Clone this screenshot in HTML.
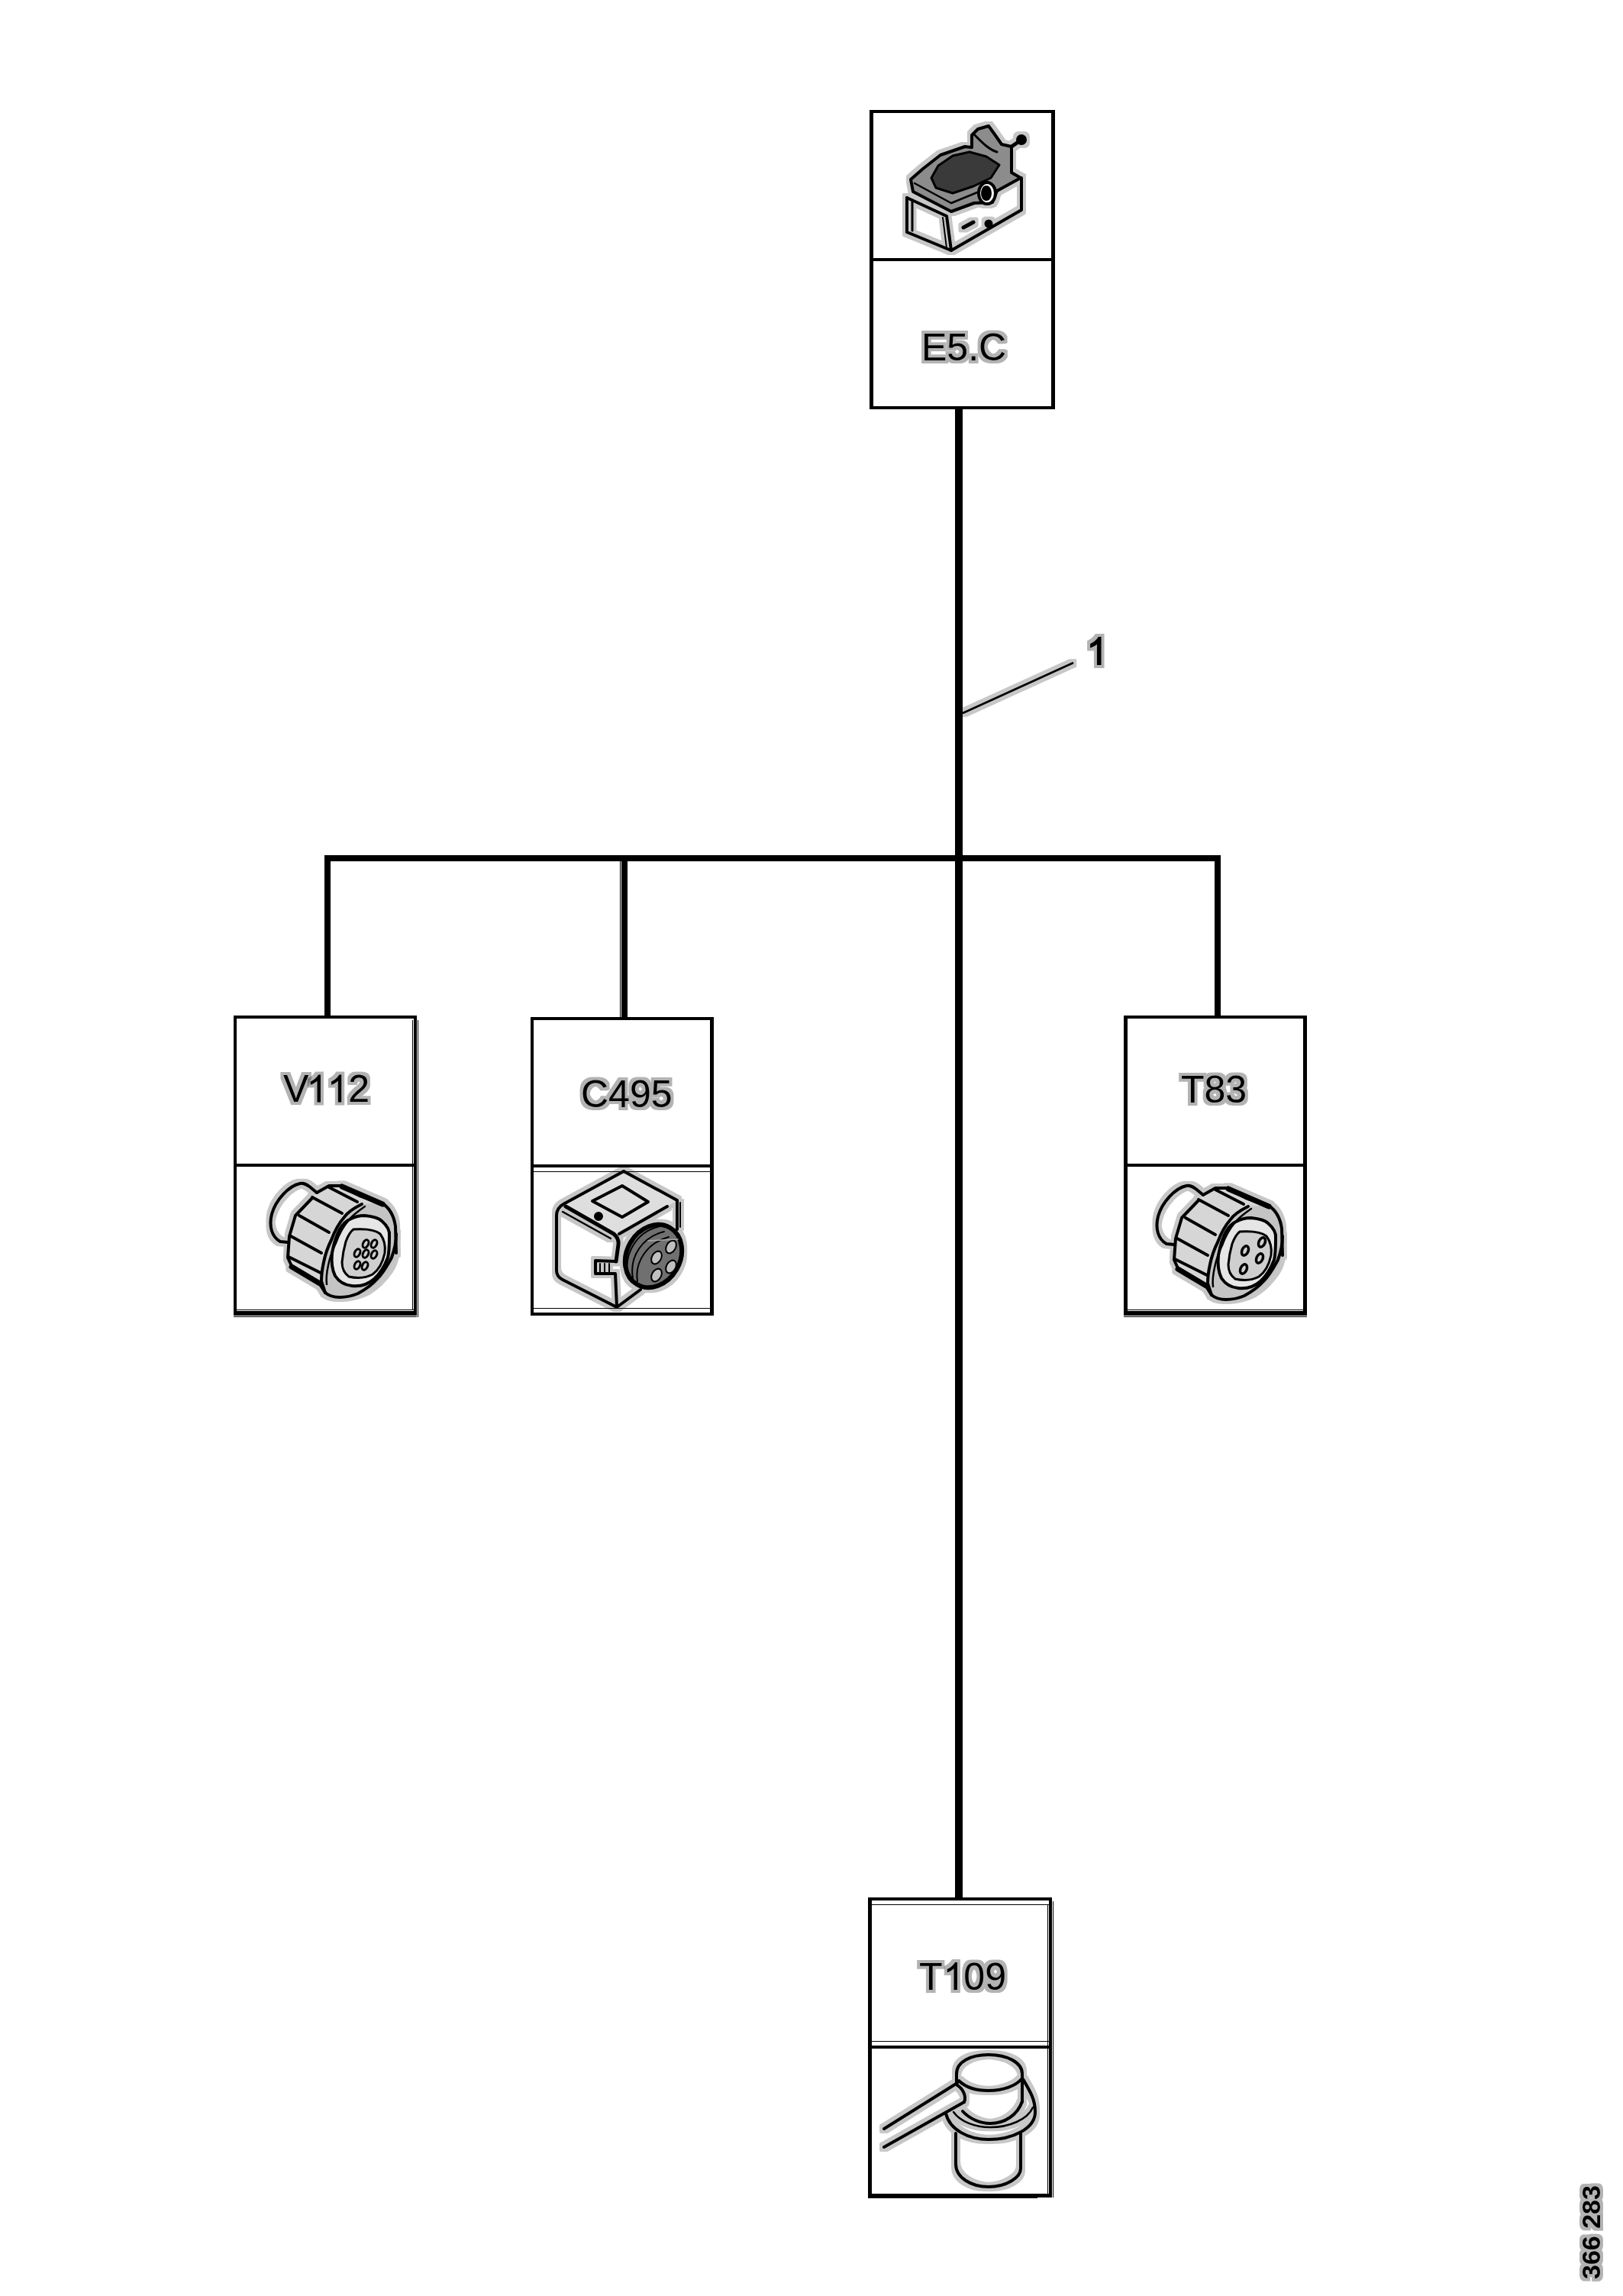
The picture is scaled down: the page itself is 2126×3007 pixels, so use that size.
<!DOCTYPE html>
<html>
<head>
<meta charset="utf-8">
<style>
html,body{margin:0;padding:0;background:#fff;}
body{width:2126px;height:3007px;position:relative;overflow:hidden;font-family:"Liberation Sans",sans-serif;}
.r{position:absolute;background:#000;}
.t{filter:url(#haloT);position:absolute;font-family:"Liberation Sans",sans-serif;font-size:50px;line-height:1;color:#000;white-space:nowrap;}
svg{position:absolute;left:0;top:0;}
.h{color:transparent;}
</style>
</head>
<body>
<!-- wires -->
<div class="r" style="left:1251px;top:536px;width:10px;height:1949px;"></div>
<div class="r" style="left:425px;top:1120px;width:1174px;height:8px;"></div>
<div class="r" style="left:425px;top:1120px;width:8px;height:210px;"></div>
<div class="r" style="left:814px;top:1120px;width:8px;height:212px;"></div>
<div class="r" style="left:812px;top:1128px;width:1px;height:204px;"></div>
<div class="r" style="left:1591px;top:1120px;width:8px;height:210px;"></div>
<!-- E5.C box -->
<div class="r" style="left:1139px;top:144px;width:243px;height:4px;"></div>
<div class="r" style="left:1139px;top:144px;width:5px;height:392px;"></div>
<div class="r" style="left:1377px;top:144px;width:5px;height:392px;"></div>
<div class="r" style="left:1139px;top:532px;width:243px;height:4px;"></div>
<div class="r" style="left:1139px;top:338px;width:243px;height:4px;"></div>
<!-- V112 box -->
<div class="r" style="left:306px;top:1330px;width:240px;height:4px;"></div>
<div class="r" style="left:306px;top:1330px;width:4px;height:393px;"></div>
<div class="r" style="left:542px;top:1330px;width:4px;height:393px;"></div>
<div class="r" style="left:306px;top:1717px;width:240px;height:6px;"></div>
<div class="r" style="left:306px;top:1524px;width:240px;height:4px;"></div>
<div class="r" style="left:310px;top:1715px;width:232px;height:1px;"></div>
<div class="r" style="left:306px;top:1724px;width:240px;height:1px;"></div>
<div class="r" style="left:540px;top:1336px;width:1px;height:379px;"></div>
<div class="r" style="left:547px;top:1336px;width:1px;height:389px;"></div>
<!-- C495 box -->
<div class="r" style="left:695px;top:1332px;width:240px;height:4px;"></div>
<div class="r" style="left:695px;top:1332px;width:4px;height:391px;"></div>
<div class="r" style="left:930px;top:1332px;width:5px;height:391px;"></div>
<div class="r" style="left:695px;top:1719px;width:240px;height:4px;"></div>
<div class="r" style="left:695px;top:1525px;width:240px;height:4px;"></div>
<div class="r" style="left:699px;top:1713px;width:231px;height:1px;"></div>
<div class="r" style="left:699px;top:1534px;width:231px;height:1px;"></div>
<!-- T83 box -->
<div class="r" style="left:1472px;top:1330px;width:240px;height:4px;"></div>
<div class="r" style="left:1472px;top:1330px;width:5px;height:393px;"></div>
<div class="r" style="left:1707px;top:1330px;width:5px;height:393px;"></div>
<div class="r" style="left:1472px;top:1717px;width:240px;height:6px;"></div>
<div class="r" style="left:1472px;top:1524px;width:240px;height:4px;"></div>
<div class="r" style="left:1477px;top:1715px;width:230px;height:1px;"></div>
<div class="r" style="left:1472px;top:1724px;width:240px;height:1px;"></div>
<!-- T109 box -->
<div class="r" style="left:1137px;top:2485px;width:241px;height:4px;"></div>
<div class="r" style="left:1137px;top:2485px;width:5px;height:393px;"></div>
<div class="r" style="left:1374px;top:2485px;width:4px;height:393px;"></div>
<div class="r" style="left:1137px;top:2873px;width:241px;height:5px;"></div>
<div class="r" style="left:1137px;top:2679px;width:241px;height:4px;"></div>
<div class="r" style="left:1142px;top:2494px;width:232px;height:1px;"></div>
<div class="r" style="left:1142px;top:2673px;width:232px;height:1px;"></div>
<div class="r" style="left:1372px;top:2494px;width:1px;height:379px;"></div>
<div class="r" style="left:1379px;top:2490px;width:1px;height:388px;"></div>
<div class="r" style="left:1137px;top:2878px;width:222px;height:1px;"></div>

<!-- labels -->
<div class="t" style="left:1207px;top:430px;">E5.C</div>
<div class="t" style="left:371px;top:1401px;">V<span class="h">1</span><span class="h">1</span>2</div>
<div class="t" style="left:761px;top:1408px;">C495</div>
<div class="t" style="left:1547px;top:1402px;">T83</div>
<div class="t" style="left:1204px;top:2564px;">T<span class="h">1</span>09</div>

<!-- leader line -->
<svg width="2126" height="3007" viewBox="0 0 2126 3007">
<defs>
<filter id="halo" x="-20%" y="-20%" width="140%" height="140%" color-interpolation-filters="sRGB">
<feMorphology in="SourceAlpha" operator="dilate" radius="3.5" result="d"/>
<feComponentTransfer in="d" result="g"><feFuncA type="linear" slope="0.22"/></feComponentTransfer>
<feMerge><feMergeNode in="g"/><feMergeNode in="SourceGraphic"/></feMerge>
</filter>
<filter id="haloT" x="-20%" y="-20%" width="140%" height="140%" color-interpolation-filters="sRGB">
<feMorphology in="SourceAlpha" operator="dilate" radius="4" result="d"/>
<feComponentTransfer in="d" result="g"><feFuncA type="linear" slope="0.3"/></feComponentTransfer>
<feMerge><feMergeNode in="g"/><feMergeNode in="SourceGraphic"/></feMerge>
</filter>
</defs>
<g fill="#000" filter="url(#haloT)">
<path transform="translate(1423.3,870.5)" stroke="#000" stroke-width="1.2" d="M18.63,0 L14.23,0 L14.23,-28.0 C12.6,-26.5 10.2,-24.4 5.44,-22.7 L5.44,-26.95 C9.5,-28.8 13.2,-31.6 15.85,-35.94 L18.63,-35.94 Z"/>
<path transform="translate(401.3,1443.5)" d="M18.63,0 L14.23,0 L14.23,-28.0 C12.6,-26.5 10.2,-24.4 5.44,-22.7 L5.44,-26.95 C9.5,-28.8 13.2,-31.6 15.85,-35.94 L18.63,-35.94 Z"/>
<path transform="translate(428.6,1443.5)" d="M18.63,0 L14.23,0 L14.23,-28.0 C12.6,-26.5 10.2,-24.4 5.44,-22.7 L5.44,-26.95 C9.5,-28.8 13.2,-31.6 15.85,-35.94 L18.63,-35.94 Z"/>
<path transform="translate(1235.3,2606)" d="M18.63,0 L14.23,0 L14.23,-28.0 C12.6,-26.5 10.2,-24.4 5.44,-22.7 L5.44,-26.95 C9.5,-28.8 13.2,-31.6 15.85,-35.94 L18.63,-35.94 Z"/>
</g>
<line x1="1261" y1="934" x2="1406" y2="868" stroke="#000" stroke-width="2.8" filter="url(#halo)"/>
</svg>


<!-- icons -->
<svg width="2126" height="3007" viewBox="0 0 2126 3007" fill="none" stroke="#000" stroke-width="4" stroke-linecap="round" stroke-linejoin="round"><g filter="url(#halo)">
<!-- T109 -->
<g id="t109">
<path d="M1253,2728 L1253,2716 C1253,2700 1272,2691 1295,2691 C1319,2691 1339,2701 1339,2716 L1339,2753"/>
<path d="M1256,2725 C1265,2734 1280,2738 1295,2738 C1314,2738 1330,2732 1338,2723"/>
<path d="M1261,2765 C1270,2775 1284,2781 1297,2781 C1316,2781 1333,2770 1339,2752"/>
<path d="M1249,2766 C1258,2779 1278,2786 1297,2786 C1322,2786 1346,2776 1353,2760" stroke-width="2.5"/>
<path d="M1239,2768 C1244,2789 1268,2802 1295,2802 C1326,2802 1356,2788 1356,2766 C1356,2750 1350,2740 1340,2723"/>
<path d="M1252,2794 L1252,2834 C1252,2852 1272,2864 1295,2864 C1318,2864 1337,2852 1337,2840 L1337,2794"/>
<path d="M1158,2788 L1254,2728"/>
<path d="M1158,2812 L1263,2753"/>
<path d="M1254,2731 C1262,2736 1266,2746 1263,2753"/>
</g>
<!-- V112 -->
<g id="v112">
<path stroke="none" fill="#d6d6d6" d="M415,1562 L431,1553 L448,1553 L471,1566 L501,1576 L474,1577 C462,1583 455,1588 451,1594 C443,1603 438,1613 434,1624 C429,1634 426,1643 424,1653 C422,1662 421,1670 421,1678 L426,1693 L419,1682 L382,1658 L377,1647 L379,1619 L387,1592 L409,1569 Z"/>
<path stroke="none" fill="#c4c4c4" d="M474,1577 L501,1576 C510,1582 516,1592 518,1606 L519,1641 C517,1652 513,1660 508,1666 C500,1677 490,1686 480,1692 C468,1698 455,1700 445,1699 C438,1699 432,1698 426,1693 L421,1678 C421,1670 422,1662 424,1653 C426,1643 429,1634 434,1624 C438,1613 443,1603 451,1594 C455,1588 462,1583 474,1577 Z"/>
<path stroke="none" fill="#e6e6e6" d="M478,1592 C488,1593 496,1595 500,1599 C508,1606 511,1612 510,1619 C510,1630 510,1639 508,1647 C503,1660 497,1669 490,1675 C481,1683 470,1685 461,1684 C450,1683 443,1677 439,1671 C434,1661 434,1651 435,1641 C437,1630 440,1619 445,1610 C449,1603 453,1599 458,1597 C465,1593 472,1592 478,1592 Z"/>
<path stroke="none" fill="#cfcfcf" d="M463,1610 C478,1609 492,1611 498,1616 C504,1624 505,1633 504,1641 C501,1655 495,1664 488,1669 C477,1675 466,1674 457,1672 C450,1667 448,1660 448,1653 C449,1642 451,1633 453,1626 C456,1618 459,1613 463,1610 Z"/>
<path d="M415,1562 L409,1557 C402,1551 398,1549 393,1550 C378,1553 361,1572 356,1590 C352,1606 356,1620 367,1626 L377,1627"/>
<path d="M415,1562 L431,1553 L448,1553 L471,1566 L501,1576 C510,1582 516,1592 518,1606 L519,1641"/>
<path d="M409,1569 L387,1592 L379,1619 L377,1647 L382,1658 L419,1682 L426,1693"/>
<path d="M426,1693 C432,1698 438,1699 445,1699 C455,1699 462,1697 469,1694 C480,1688 488,1682 494,1675 C503,1666 508,1656 513,1647 C517,1636 519,1626 519,1616"/>
<path d="M474,1577 C462,1583 455,1588 451,1594 C443,1603 438,1613 434,1624 C429,1634 426,1643 424,1653 C422,1662 421,1670 421,1678 L426,1693"/>
<path d="M478,1580 C468,1587 461,1592 457,1598 C449,1607 444,1617 440,1628 C435,1638 432,1647 430,1657 C428,1666 427,1674 428,1682" stroke-width="2.5"/>
<path d="M478,1592 C488,1593 496,1595 500,1599 C508,1606 511,1612 510,1619 C510,1630 510,1639 508,1647 C503,1660 497,1669 490,1675 C481,1683 470,1685 461,1684 C450,1683 443,1677 439,1671 C434,1661 434,1651 435,1641 C437,1630 440,1619 445,1610 C449,1603 453,1599 458,1597 C465,1593 472,1592 478,1592 Z"/>
<path d="M463,1610 C478,1609 492,1611 498,1616 C504,1624 505,1633 504,1641 C501,1655 495,1664 488,1669 C477,1675 466,1674 457,1672 C450,1667 448,1660 448,1653 C449,1642 451,1633 453,1626 C456,1618 459,1613 463,1610 Z" stroke-width="3"/>
<g stroke-width="3">
<ellipse cx="479" cy="1629" rx="3.5" ry="5.5" transform="rotate(25 479 1629)"/>
<ellipse cx="490" cy="1629" rx="3.5" ry="5.5" transform="rotate(25 490 1629)"/>
<ellipse cx="468" cy="1641" rx="3.5" ry="5.5" transform="rotate(25 468 1641)"/>
<ellipse cx="479" cy="1642" rx="3.5" ry="5.5" transform="rotate(25 479 1642)"/>
<ellipse cx="490" cy="1643" rx="3.5" ry="5.5" transform="rotate(25 490 1643)"/>
<ellipse cx="468" cy="1657" rx="3.5" ry="5.5" transform="rotate(25 468 1657)"/>
<ellipse cx="478" cy="1658" rx="3.5" ry="5.5" transform="rotate(25 478 1658)"/>
</g>
<path d="M448,1554 L501,1577" stroke-width="7"/>
<path d="M382,1659 L419,1681" stroke-width="7"/>
<path d="M409,1568 L448,1589"/>
<path d="M431,1555 L468,1574"/>
<path d="M392,1592 L431,1614"/>
<path d="M381,1619 L421,1641"/>
<path d="M378,1646 L420,1667"/>
</g>

<!-- T83 (V112 shape translated) -->
<g transform="translate(1161,3)">
<path stroke="none" fill="#d6d6d6" d="M415,1562 L431,1553 L448,1553 L471,1566 L501,1576 L474,1577 C462,1583 455,1588 451,1594 C443,1603 438,1613 434,1624 C429,1634 426,1643 424,1653 C422,1662 421,1670 421,1678 L426,1693 L419,1682 L382,1658 L377,1647 L379,1619 L387,1592 L409,1569 Z"/>
<path stroke="none" fill="#c4c4c4" d="M474,1577 L501,1576 C510,1582 516,1592 518,1606 L519,1641 C517,1652 513,1660 508,1666 C500,1677 490,1686 480,1692 C468,1698 455,1700 445,1699 C438,1699 432,1698 426,1693 L421,1678 C421,1670 422,1662 424,1653 C426,1643 429,1634 434,1624 C438,1613 443,1603 451,1594 C455,1588 462,1583 474,1577 Z"/>
<path stroke="none" fill="#e6e6e6" d="M478,1592 C488,1593 496,1595 500,1599 C508,1606 511,1612 510,1619 C510,1630 510,1639 508,1647 C503,1660 497,1669 490,1675 C481,1683 470,1685 461,1684 C450,1683 443,1677 439,1671 C434,1661 434,1651 435,1641 C437,1630 440,1619 445,1610 C449,1603 453,1599 458,1597 C465,1593 472,1592 478,1592 Z"/>
<path stroke="none" fill="#cfcfcf" d="M463,1610 C478,1609 492,1611 498,1616 C504,1624 505,1633 504,1641 C501,1655 495,1664 488,1669 C477,1675 466,1674 457,1672 C450,1667 448,1660 448,1653 C449,1642 451,1633 453,1626 C456,1618 459,1613 463,1610 Z"/>
<path d="M415,1562 L409,1557 C402,1551 398,1549 393,1550 C378,1553 361,1572 356,1590 C352,1606 356,1620 367,1626 L377,1627"/>
<path d="M415,1562 L431,1553 L448,1553 L471,1566 L501,1576 C510,1582 516,1592 518,1606 L519,1641"/>
<path d="M409,1569 L387,1592 L379,1619 L377,1647 L382,1658 L419,1682 L426,1693"/>
<path d="M426,1693 C432,1698 438,1699 445,1699 C455,1699 462,1697 469,1694 C480,1688 488,1682 494,1675 C503,1666 508,1656 513,1647 C517,1636 519,1626 519,1616"/>
<path d="M474,1577 C462,1583 455,1588 451,1594 C443,1603 438,1613 434,1624 C429,1634 426,1643 424,1653 C422,1662 421,1670 421,1678 L426,1693"/>
<path d="M478,1580 C468,1587 461,1592 457,1598 C449,1607 444,1617 440,1628 C435,1638 432,1647 430,1657 C428,1666 427,1674 428,1682" stroke-width="2.5"/>
<path d="M478,1592 C488,1593 496,1595 500,1599 C508,1606 511,1612 510,1619 C510,1630 510,1639 508,1647 C503,1660 497,1669 490,1675 C481,1683 470,1685 461,1684 C450,1683 443,1677 439,1671 C434,1661 434,1651 435,1641 C437,1630 440,1619 445,1610 C449,1603 453,1599 458,1597 C465,1593 472,1592 478,1592 Z"/>
<path d="M463,1610 C478,1609 492,1611 498,1616 C504,1624 505,1633 504,1641 C501,1655 495,1664 488,1669 C477,1675 466,1674 457,1672 C450,1667 448,1660 448,1653 C449,1642 451,1633 453,1626 C456,1618 459,1613 463,1610 Z" stroke-width="3"/>
<path d="M448,1554 L501,1577" stroke-width="7"/>
<path d="M382,1659 L419,1681" stroke-width="7"/>
<path d="M409,1568 L448,1589"/>
<path d="M431,1555 L468,1574"/>
<path d="M392,1592 L431,1614"/>
<path d="M381,1619 L421,1641"/>
<path d="M378,1646 L420,1667"/>
</g>
<g stroke-width="3.5">
<ellipse cx="1653" cy="1627" rx="4" ry="6.5" transform="rotate(25 1653 1627)"/>
<ellipse cx="1631" cy="1638" rx="4" ry="6.5" transform="rotate(25 1631 1638)"/>
<ellipse cx="1650" cy="1648" rx="4" ry="6.5" transform="rotate(25 1650 1648)"/>
<ellipse cx="1629" cy="1662" rx="4" ry="6.5" transform="rotate(25 1629 1662)"/>
</g>
<!-- C495 -->
<g id="c495">
<path stroke="none" fill="#dedede" d="M817,1534 L887,1572 L874,1580 L811,1617 L738,1578 Z"/>
<path d="M817,1534 L738,1577 Q729,1582 729,1592 L729,1664 Q729,1672 737,1676 L808,1712 L839,1689"/>
<path d="M817,1534 L887,1572 L887,1610"/>
<path d="M891,1575 L891,1607" stroke-width="2"/>
<path d="M811,1616 L874,1580"/>
<path d="M741,1580 L804,1616 Q811,1622 810,1630 L807,1652" stroke-width="5"/>
<path d="M737,1587 L800,1622" stroke-width="2.5"/>
<path d="M807,1652 L780,1651 L780,1668 L806,1668 L808,1712"/>
<path d="M786,1655 L786,1668 M792,1655 L792,1668 M798,1655 L798,1668" stroke-width="2"/>
<path d="M776,1573 L815,1553 L849,1574 L815,1594 Z"/>
<circle cx="784" cy="1593" r="4" fill="#000"/>
<ellipse cx="856" cy="1645" rx="35" ry="43" transform="rotate(30 856 1645)" fill="#707070" stroke-width="6"/>
<path d="M822,1668 C818,1640 835,1612 865,1606" stroke="#000" stroke-width="2"/>
<path d="M829,1674 C824,1645 842,1620 870,1613" stroke="#000" stroke-width="2"/>
<path d="M835,1678 C831,1652 848,1628 876,1620" stroke="#000" stroke-width="2"/>
<g fill="#c0c0c0" stroke="#000" stroke-width="2">
<ellipse cx="879" cy="1633" rx="6" ry="9" transform="rotate(30 879 1633)"/>
<ellipse cx="879" cy="1659" rx="6" ry="9" transform="rotate(30 879 1659)"/>
<ellipse cx="860" cy="1647" rx="6" ry="9" transform="rotate(30 860 1647)"/>
<ellipse cx="860" cy="1670" rx="6" ry="9" transform="rotate(30 860 1670)"/>
</g>
<path d="M849,1625 L888,1623" stroke="#aaa" stroke-width="1.5"/>
</g>
<!-- E5.C -->
<g id="e5c">
<path d="M1188,259 L1188,304 L1246,328 L1338,275 L1338,233"/>
<path d="M1195,262 L1195,302" stroke-width="3"/>
<path d="M1188,259 L1240,283 L1246,328"/>
<path d="M1235,285 L1240,325" stroke-width="2"/>
<path d="M1262,298 L1275,291" stroke-width="5"/>
<circle cx="1295" cy="293" r="3.5" fill="#000"/>
<path d="M1193,235 L1196,251 L1246,277 L1276,266 L1300,265 L1306,250 L1337,233 L1325,226 L1325,192 L1312,189 L1303,176 L1295,165 L1281,169 L1273,177 L1273,193 L1264,192 L1232,203 L1209,221 Z" fill="#8c8c8c" stroke-width="4"/>
<path d="M1198,240 L1246,266 L1280,252" stroke-width="2.5"/>
<path d="M1220,233 L1229,217 L1248,204 L1270,199 L1292,205 L1309,216 L1298,233 L1275,244 L1248,253 L1226,246 Z" fill="#3a3a3a" stroke-width="3"/>
<ellipse cx="1293" cy="253" rx="11" ry="14" fill="#fff" stroke-width="4"/>
<ellipse cx="1292" cy="253" rx="5" ry="8" fill="#000"/>
<path d="M1276,176 C1285,185 1295,196 1306,199" stroke-width="3"/>
<path d="M1325,192 L1341,181" stroke-width="5"/>
<circle cx="1338" cy="183" r="5" fill="#000"/>
</g>
</g></svg>
<div class="t" style="left:2067px;top:2985px;font-size:34px;font-weight:bold;transform:rotate(-90deg);transform-origin:0 0;">366 283</div>
</body>
</html>
